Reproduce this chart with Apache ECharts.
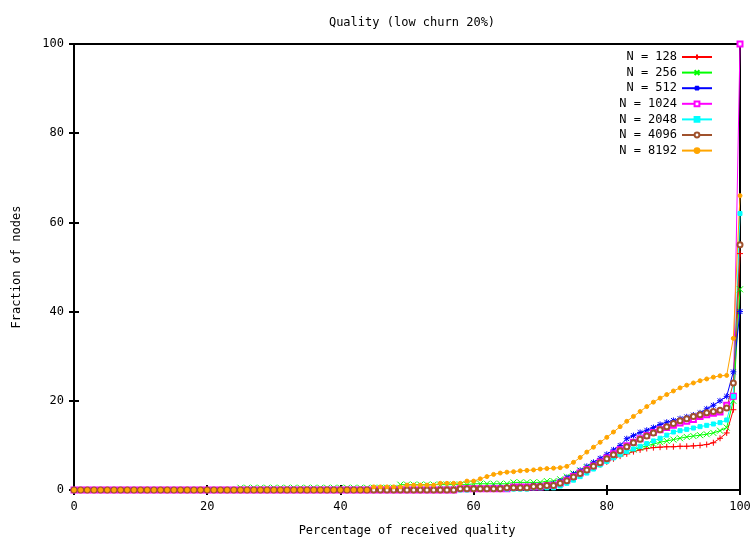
<!DOCTYPE html>
<html>
<head>
<meta charset="utf-8">
<script src="https://cdn.jsdelivr.net/npm/echarts@6/dist/echarts.min.js"></script>
<style>html,body{margin:0;padding:0;background:#fff}#c{width:751px;height:537px}</style>
</head>
<body>
<div id="c"></div>
<script>
var seriesNames = ["N = 128", "N = 256", "N = 512", "N = 1024", "N = 2048", "N = 4096", "N = 8192"];
var xTicks = [0, 20, 40, 60, 80, 100];
var yTicks = [0, 20, 40, 60, 80, 100];

// x = 0 .. 100, one value per integer percentage
var n128 = [0,0,0,0,0,0,0,0,0,0, 0,0,0,0,0,0,0,0,0,0, 0,0,0,0,0,0,0,0,0,0, 0,0,0,0,0,0,0,0,0,0, 0,0,0,0,0,0,0,0,0,0,
  0,0,0,0,0,0.3,0.3,0.3,0.3,0.3, 0.3,0.3,0.3,0.3,0.3,0.5,0.5,0.5,0.5,0.5, 0.8,0.8,0.8,1.2,1.8,2.6,3.4,4.2,5.0,5.7,
  6.3,7.0,7.6,8.1,8.6,9.0,9.3,9.5,9.6,9.7, 9.7,9.8,9.8,9.9,10.0,10.2,10.6,11.6,12.8,18, 53];
var n256 = [0,0,0,0,0,0,0,0,0,0, 0,0,0,0,0,0,0,0,0,0, 0,0,0,0,0,0.5,0.5,0.5,0.5,0.5, 0.5,0.5,0.5,0.5,0.5,0.5,0.5,0.5,0.5,0.5, 0.5,0.5,0.5,0.5,0.5,0.5,0.5,0.5,0.5,1.2,
  1.2,1.2,1.2,1.2,1.2,1.2,1.2,1.2,1.2,1.2, 1.4,1.4,1.4,1.4,1.4,1.4,1.7,1.7,1.7,1.7, 1.7,2.0,2.0,2.4,3.0,3.7,4.4,5.1,5.8,6.5,
  7.1,7.7,8.2,8.7,9.1,9.5,9.9,10.3,10.7,11.0, 11.3,11.6,11.9,12.1,12.3,12.5,12.8,13.3,14.0,20, 45];
var n512 = [0,0,0,0,0,0,0,0,0,0, 0,0,0,0,0,0,0,0,0,0, 0,0,0,0,0,0,0,0,0,0, 0,0,0,0,0,0,0,0,0,0, 0,0,0,0,0,0,0,0,0,0,
  0,0,0,0,0,0,0,0,0.3,0.3, 0.3,0.3,0.3,0.6,0.6,0.6,0.6,0.6,0.6,1.0, 1.0,1.0,1.4,2.0,2.8,3.6,4.4,5.3,6.2,7.1,
  8.0,9.0,10.0,11.5,12.2,12.9,13.4,14.0,14.7,15.2, 15.6,16.0,16.4,16.8,17.3,18.2,19.0,20.0,21.0,26.5, 40];
var n1024 = [0,0,0,0,0,0,0,0,0,0, 0,0,0,0,0,0,0,0,0,0, 0,0,0,0,0,0,0,0,0,0, 0,0,0,0,0,0,0,0,0,0, 0,0,0,0,0,0,0,0,0,0,
  0,0,0,0,0,0,0,0,0.3,0.3, 0.3,0.3,0.3,0.3,0.3,0.3,0.7,0.7,0.7,0.7, 0.7,1.0,1.0,1.5,2.2,3.0,3.8,4.6,5.4,6.3,
  7.2,8.1,9.0,9.9,10.7,11.5,12.2,12.9,13.5,14.0, 14.5,15.0,15.4,15.8,16.5,16.9,17.2,17.5,19.0,21, 100];
var n2048 = [0,0,0,0,0,0,0,0,0,0, 0,0,0,0,0,0,0,0,0,0, 0,0,0,0,0,0,0,0,0,0, 0,0,0,0,0,0,0,0,0,0, 0,0,0,0,0,0,0,0,0,0,
  0,0,0,0,0,0,0,0,0,0, 0.2,0.2,0.2,0.2,0.2,0.2,0.2,0.2,0.2,0.5, 0.5,0.5,0.5,0.9,1.5,2.2,3.0,3.8,4.7,5.6,
  6.4,7.2,7.9,8.6,9.2,9.8,10.4,11.0,11.6,12.3, 13.0,13.3,13.6,13.9,14.2,14.5,14.8,15.1,15.7,21, 62];
var n4096 = [0,0,0,0,0,0,0,0,0,0, 0,0,0,0,0,0,0,0,0,0, 0,0,0,0,0,0,0,0,0,0, 0,0,0,0,0,0,0,0,0,0, 0,0,0,0,0,0,0,0,0,0,
  0,0,0,0,0,0,0,0,0.3,0.3, 0.3,0.3,0.3,0.3,0.3,0.5,0.5,0.5,0.5,0.8, 0.8,1.0,1.0,1.5,2.1,2.9,3.7,4.5,5.3,6.1,
  7.0,7.9,8.8,9.7,10.6,11.4,12.1,12.8,13.5,14.2, 14.9,15.5,16.0,16.5,16.9,17.3,17.6,17.9,18.4,24, 55];
var n8192 = [0,0,0,0,0,0,0,0,0,0, 0,0,0,0,0,0,0,0,0,0, 0,0,0,0,0,0,0,0,0,0, 0,0,0,0,0,0,0,0,0,0, 0,0,0,0,0,0.7,0.7,0.7,0.7,0.7,
  1.1,1.1,1.1,1.1,1.1,1.5,1.5,1.5,1.5,2.0, 2.0,2.5,3.0,3.5,3.8,4.0,4.1,4.3,4.4,4.5, 4.7,4.8,4.9,5.0,5.3,6.2,7.3,8.5,9.6,10.7,
  11.8,13.0,14.2,15.4,16.5,17.6,18.7,19.7,20.6,21.4, 22.2,22.9,23.5,24.0,24.5,24.9,25.3,25.6,25.7,34, 66];

var allData = [n128, n256, n512, n1024, n2048, n4096, n8192];
var colors = ["#ff0000", "#00ff00", "#0000ff", "#ff00ff", "#00ffff", "#a0522d", "#ffa500"];
var symbols = [
  "path://M0,5L10,5M5,0L5,10",
  "path://M0,0L10,10M0,10L10,0",
  "path://M0,5L10,5M5,0L5,10M1,1L9,9M1,9L9,1",
  "emptyRect",
  "rect",
  "emptyCircle",
  "circle"
];
var symSizes = [6, 6, 6, 5, 4, 5, 4];

var FONT = "DejaVu Sans Mono";

var series = allData.map(function (arr, k) {
  return {
    name: seriesNames[k],
    type: "line",
    data: arr.map(function (v, i) { return [i, v]; }),
    symbol: symbols[k],
    symbolSize: symSizes[k],
    showAllSymbol: true,
    clip: false,
    lineStyle: { color: colors[k], width: 1 },
    itemStyle: { color: colors[k], borderColor: colors[k], borderWidth: 1 },
    emphasis: { disabled: true },
    animation: false
  };
});

var chart = echarts.init(document.getElementById("c"));
chart.setOption({
  animation: false,
  backgroundColor: "#ffffff",
  color: colors,
  title: {
    text: "Quality (low churn 20%)",
    left: 407,
    top: 12,
    textAlign: "center",
    textStyle: { fontFamily: FONT, fontSize: 12, fontWeight: "normal", color: "#000" }
  },
  legend: {
    orient: "vertical",
    right: 33,
    top: 46,
    align: "right",
    itemWidth: 30,
    itemHeight: 6,
    itemGap: 3.6,
    textStyle: { fontFamily: FONT, fontSize: 12, color: "#000" },
    data: seriesNames
  },
  grid: { left: 74, right: 11, top: 44, bottom: 47, containLabel: false,
    outerBoundsMode: "none",
    show: true, borderColor: "#000", borderWidth: 2 },
  xAxis: [{
    type: "value", min: 0, max: 100, interval: 20,
    name: "Percentage of received quality", nameLocation: "middle", nameGap: 35,
    nameTextStyle: { fontFamily: FONT, fontSize: 12, color: "#000" },
    axisLine: { show: true, lineStyle: { color: "#000", width: 2 } },
    axisTick: { show: true, inside: true, length: 5, lineStyle: { color: "#000", width: 2 } },
    axisLabel: { fontFamily: FONT, fontSize: 12, color: "#000", margin: 11 },
    splitLine: { show: false }
  }, {
    type: "value", position: "top", min: 0, max: 100, interval: 20,
    axisLine: { show: true, lineStyle: { color: "#000", width: 2 } },
    axisTick: { show: true, inside: true, length: 5, lineStyle: { color: "#000", width: 2 } },
    axisLabel: { show: false }, splitLine: { show: false }
  }],
  yAxis: [{
    type: "value", min: 0, max: 100, interval: 20,
    name: "Fraction of nodes", nameLocation: "middle", nameGap: 51, nameRotate: 90,
    nameTextStyle: { fontFamily: FONT, fontSize: 12, color: "#000" },
    axisLine: { show: true, lineStyle: { color: "#000", width: 2 } },
    axisTick: { show: true, inside: true, length: 5, lineStyle: { color: "#000", width: 2 } },
    axisLabel: { fontFamily: FONT, fontSize: 12, color: "#000", margin: 10 },
    splitLine: { show: false }
  }, {
    type: "value", position: "right", min: 0, max: 100, interval: 20,
    axisLine: { show: true, lineStyle: { color: "#000", width: 2 } },
    axisTick: { show: true, inside: true, length: 5, lineStyle: { color: "#000", width: 2 } },
    axisLabel: { show: false }, splitLine: { show: false }
  }],
  series: series
});
</script>
</body>
</html>
